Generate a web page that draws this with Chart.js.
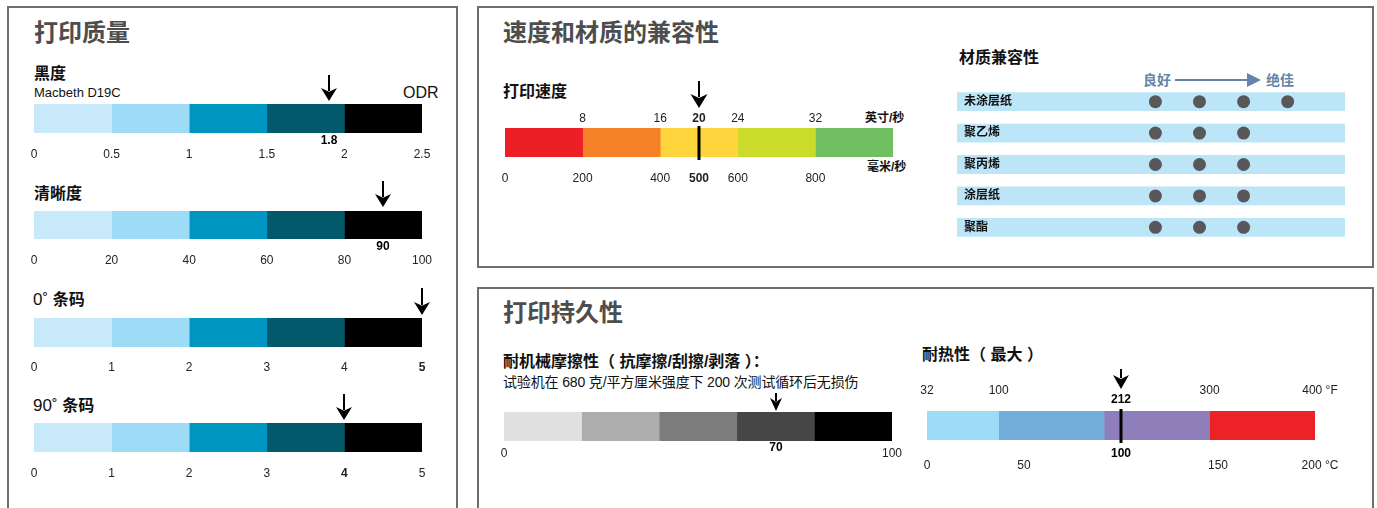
<!DOCTYPE html>
<html lang="zh-CN">
<head>
<meta charset="utf-8">
<title>打印质量 / 速度和材质的兼容性 / 打印持久性</title>
<script src="https://cdn.jsdelivr.net/npm/chart.js@4.4.1/dist/chart.umd.min.js"></script>
<style>
  html, body { margin: 0; padding: 0; background: #fff; }
  body { position: relative; width: 1377px; height: 508px; overflow: hidden;
         font-family: "Liberation Sans", "Noto Sans CJK SC", sans-serif; color: #111; }
  .panel { position: absolute; box-sizing: border-box; border: 2px solid #6e6e6e; }
  .t { position: absolute; line-height: 1; white-space: nowrap; }
  .title { font-size: 24px; font-weight: bold; color: #4d4d4d; }
  .head { font-size: 16px; font-weight: bold; }
  .unit { font-size: 12px; font-weight: bold; }
  .scale { font-size: 14px; font-weight: bold; color: #6485a8; }
  canvas { position: absolute; }
</style>
</head>
<body>
<div class="panel" style="left:7px;top:6px;width:451px;height:530px"></div>
<div class="panel" style="left:477px;top:6px;width:897px;height:262px"></div>
<div class="panel" style="left:477px;top:287px;width:897px;height:240px"></div>

<div class="t title" style="left:34px;top:21px">打印质量</div>
<div class="t head" style="left:34px;top:66px">黑度</div>
<div class="t" style="left:34px;top:86px;font-size:13px">Macbeth D19C</div>
<div class="t" style="left:403px;top:85px;font-size:16px">ODR</div>
<div class="t head" style="left:34px;top:186px">清晰度</div>
<div class="t" style="left:33px;top:291px;font-size:17px">0˚ <b style="font-size:16px">条码</b></div>
<div class="t" style="left:33px;top:397px;font-size:17px">90˚ <b style="font-size:16px">条码</b></div>

<div class="t title" style="left:503px;top:21px">速度和材质的兼容性</div>
<div class="t head" style="left:503px;top:84px">打印速度</div>
<div class="t unit" style="left:865px;top:112px">英寸/秒</div>
<div class="t unit" style="left:867px;top:161px">毫米/秒</div>
<div class="t head" style="left:959px;top:50px">材质兼容性</div>
<div class="t scale" style="left:1143px;top:73px">良好</div>
<div style="position:absolute;left:1175px;top:79px;width:76px;height:2px;background:#6485a8"></div>
<div style="position:absolute;left:1247px;top:73px;width:0;height:0;border-left:14px solid #6485a8;border-top:7px solid transparent;border-bottom:7px solid transparent"></div>
<div class="t scale" style="left:1266px;top:73px">绝佳</div>

<div class="t title" style="left:503px;top:301px">打印持久性</div>
<div class="t head" style="left:503px;top:354px">耐机械摩擦性（ 抗摩擦/刮擦/剥落 ）：</div>
<div class="t" style="left:503px;top:375px;font-size:14px;letter-spacing:-0.15px">试验机在 680 克/平方厘米强度下 200 次测试循环后无损伤</div>
<div class="t head" style="left:922px;top:347px">耐热性（ 最大 ）</div>

<script>
// 打印质量
const darknessEdges = [0, 0.5, 1, 1.5, 2, 2.5];
const darknessTicks = [0, 0.5, 1, 1.5, 2, 2.5];
const darknessArrowAt = 1.9;   // arrow sits here in the picture
const darknessValue = '1.8';

const clarityEdges = [0, 20, 40, 60, 80, 100];
const clarityTicks = [0, 20, 40, 60, 80, 100];
const clarityValue = 90;

const barcodeEdges = [0, 1, 2, 3, 4, 5];
const barcodeTicks = [0, 1, 2, 3, 4, 5];
const barcode0Value = 5;
const barcode90Value = 4;

// 打印速度
const speedEdgesMm = [0, 200, 400, 600, 800, 1000];
const speedTicksIps = [8, 16, 20, 24, 32];
const speedTicksMm = [0, 200, 400, 500, 600, 800];
const speedIps = 20;
const speedMm = 500;

// 材质兼容性
const materials = ['未涂层纸', '聚乙烯', '聚丙烯', '涂层纸', '聚酯'];
const materialRatings = [4, 3, 3, 3, 3];

// 耐机械摩擦性
const abrasionEdges = [0, 20, 40, 60, 80, 100];
const abrasionTicks = [0, 100];
const abrasionValue = 70;

// 耐热性
const heatEdgesF = [32, 100, 200, 300, 400];
const heatTicksF = [32, 100, 300, 400];
const heatTicksC = [0, 50, 150, 200];
const heatMaxF = 212;
const heatMaxC = 100;

const blues = ['#c7e9f9', '#9ddbf6', '#0096c2', '#02596c', '#000000'];
const speedColors = ['#ed1f26', '#f58229', '#fed53d', '#cadb2b', '#72bf62'];
const grays = ['#e0e0e0', '#adadad', '#7c7c7c', '#464646', '#000000'];
const heatColors = ['#9ddcf6', '#72acd9', '#8e7fba', '#ec2227'];

Chart.defaults.font.family = '"Liberation Sans", "Noto Sans CJK SC", sans-serif';
Chart.defaults.font.size = 12;
Chart.defaults.color = '#222';

// arrow / marker line / bold value labels
const markerPlugin = {
    id: 'marker',
    afterDatasetsDraw(chart, args, o) {
        if (!o || o.value === undefined) return;
        const ctx = chart.ctx;
        const x = Math.round(chart.scales[o.axis].getPixelForValue(o.value));
        const { top, bottom } = chart.chartArea;
        ctx.save();
        ctx.fillStyle = '#000';
        ctx.strokeStyle = '#000';
        if (o.line) {
            ctx.lineWidth = 3;
            ctx.beginPath();
            ctx.moveTo(x, top - 2);
            ctx.lineTo(x, bottom + 3);
            ctx.stroke();
        }
        const tip = top - o.gap;
        const hw = o.headW / 2;
        ctx.lineWidth = 2;
        ctx.beginPath();
        ctx.moveTo(x, tip - o.len);
        ctx.lineTo(x, tip - o.headH + 3);
        ctx.stroke();
        ctx.beginPath();
        ctx.moveTo(x, tip);
        ctx.lineTo(x - hw, tip - o.headH);
        ctx.lineTo(x, tip - o.headH * 0.72);
        ctx.lineTo(x + hw, tip - o.headH);
        ctx.closePath();
        ctx.fill();
        ctx.font = 'bold 12px "Liberation Sans", sans-serif';
        ctx.textAlign = 'center';
        ctx.textBaseline = 'middle';
        if (o.above) ctx.fillText(o.above, x, top - o.aboveDy);
        if (o.below) ctx.fillText(o.below, x, bottom + o.belowDy);
        ctx.restore();
    }
};
Chart.register(markerPlugin);

function place(left, top, width, height) {
    const c = document.createElement('canvas');
    c.width = width;
    c.height = height;
    c.style.cssText = `left:${left}px;top:${top}px;width:${width}px;height:${height}px`;
    document.body.appendChild(c);
    return c;
}

function axis(position, ax) {
    const bold = ax.bold || [];
    return {
        type: 'linear',
        position,
        min: ax.min,
        max: ax.max,
        grid: { display: false, drawTicks: false },
        border: { display: false },
        afterBuildTicks: s => { s.ticks = ax.ticks.map(v => ({ value: v })); },
        afterFit: s => { s.height = ax.height; },
        ticks: {
            autoSkip: false,
            maxRotation: 0,
            padding: ax.pad,
            color: '#222',
            font: c => ({ size: 12, weight: c.tick && bold.includes(c.tick.value) ? 'bold' : 'normal' }),
            callback: v => ax.labels ? ax.labels[ax.ticks.indexOf(v)] : String(v)
        }
    };
}

function segmentChart(cfg) {
    const b = cfg.bar;
    const padL = 30, padR = 50;
    const topH = cfg.top ? cfg.top.height : 0;
    const canvas = place(b.x - padL, b.y - cfg.padT, b.w + padL + padR, b.h + cfg.padT + cfg.bottom.height);
    const scales = { y: { display: false } };
    scales.x = axis('bottom', cfg.bottom);
    if (cfg.top) scales.x2 = axis('top', cfg.top);
    return new Chart(canvas, {
        type: 'bar',
        data: {
            labels: [''],
            datasets: cfg.edges.slice(1).map((end, i) => ({
                data: [[cfg.edges[i], end]],
                backgroundColor: cfg.colors[i],
                borderWidth: 0,
                grouped: false,
                barPercentage: 1,
                categoryPercentage: 1,
                xAxisID: cfg.segAxis || 'x'
            }))
        },
        options: {
            indexAxis: 'y',
            responsive: false,
            animation: false,
            events: [],
            layout: { padding: { left: padL, right: padR, top: cfg.padT - topH, bottom: 0 } },
            plugins: { legend: { display: false }, tooltip: { enabled: false }, marker: cfg.marker },
            scales
        }
    });
}

const arrowL = { gap: 3, len: 26, headW: 16, headH: 13 };

// 黑度
segmentChart({
    bar: { x: 34, y: 104, w: 388, h: 29 }, padT: 32,
    edges: darknessEdges, colors: blues,
    bottom: { min: 0, max: 2.5, ticks: darknessTicks, pad: 14, height: 34 },
    marker: { ...arrowL, axis: 'x', value: darknessArrowAt, below: darknessValue, belowDy: 8 }
});
// 清晰度
segmentChart({
    bar: { x: 34, y: 211, w: 388, h: 28 }, padT: 32,
    edges: clarityEdges, colors: blues,
    bottom: { min: 0, max: 100, ticks: clarityTicks, pad: 14.5, height: 34 },
    marker: { ...arrowL, gap: 4, axis: 'x', value: clarityValue, below: String(clarityValue), belowDy: 8 }
});
// 0° 条码
segmentChart({
    bar: { x: 34, y: 318, w: 388, h: 29 }, padT: 32,
    edges: barcodeEdges, colors: blues,
    bottom: { min: 0, max: 5, ticks: barcodeTicks, bold: [barcode0Value], pad: 13, height: 34 },
    marker: { ...arrowL, len: 27, axis: 'x', value: barcode0Value }
});
// 90° 条码
segmentChart({
    bar: { x: 34, y: 423, w: 388, h: 29 }, padT: 32,
    edges: barcodeEdges, colors: blues,
    bottom: { min: 0, max: 5, ticks: barcodeTicks, bold: [barcode90Value], pad: 14, height: 34 },
    marker: { ...arrowL, axis: 'x', value: barcode90Value }
});

// 打印速度
segmentChart({
    bar: { x: 505, y: 128, w: 388, h: 29 }, padT: 50,
    edges: speedEdgesMm, colors: speedColors,
    bottom: { min: 0, max: 1000, ticks: speedTicksMm, bold: [speedMm], pad: 14.5, height: 34 },
    top: { min: 0, max: 40, ticks: speedTicksIps, bold: [speedIps], pad: 2.5, height: 24 },
    marker: { axis: 'x', value: speedMm, line: true, gap: 20, len: 27, headW: 17, headH: 14 }
});

// 耐机械摩擦性
segmentChart({
    bar: { x: 504, y: 412, w: 388, h: 29 }, padT: 22,
    edges: abrasionEdges, colors: grays,
    bottom: { min: 0, max: 100, ticks: abrasionTicks, pad: 5, height: 24 },
    marker: { axis: 'x', value: abrasionValue, gap: 1, len: 18, headW: 12, headH: 13, below: String(abrasionValue), belowDy: 7 }
});

// 耐热性 (unit labels padded so the number sits at the bar end)
segmentChart({
    bar: { x: 927, y: 411, w: 388, h: 29 }, padT: 46,
    edges: heatEdgesF, colors: heatColors, segAxis: 'x2',
    bottom: { min: 0, max: 200, ticks: heatTicksC, labels: ['0', '50', '150', '   200 °C'], pad: 18, height: 36 },
    top: { min: 32, max: 400, ticks: heatTicksF, labels: ['32', '100', '300', '   400 °F'], pad: 12.8, height: 28 },
    marker: { axis: 'x', value: heatMaxC, line: true, gap: 22, len: 20, headW: 16, headH: 14,
              above: String(heatMaxF), aboveDy: 11, below: String(heatMaxC), belowDy: 14 }
});

// 材质兼容性
const dotMin = -3.5, dotMax = 5.3;
const dots = materials.flatMap((m, i) =>
    Array.from({ length: materialRatings[i] }, (_, k) => ({ x: k + 1, y: m })));

new Chart(place(957, 86, 388, 157), {
    type: 'bar',
    data: {
        labels: materials,
        datasets: [
            {
                type: 'scatter',
                data: dots,
                pointRadius: 6.5,
                pointHoverRadius: 6.5,
                pointBackgroundColor: '#58585a',
                pointBorderWidth: 0,
                clip: false,
                order: 0
            },
            {
                data: materials.map(() => [dotMin, dotMax]),
                backgroundColor: '#bce6f8',
                borderWidth: 0,
                barPercentage: 0.6,
                categoryPercentage: 1,
                order: 1
            }
        ]
    },
    options: {
        indexAxis: 'y',
        responsive: false,
        animation: false,
        events: [],
        layout: { padding: 0, autoPadding: false },
        plugins: { legend: { display: false }, tooltip: { enabled: false }, marker: false },
        scales: {
            x: { type: 'linear', min: dotMin, max: dotMax, display: false },
            y: {
                type: 'category',
                offset: true,
                grid: { display: false, drawTicks: false },
                border: { display: false },
                afterFit: s => { s.width = 0; s.paddingTop = 0; s.paddingBottom = 0; },
                ticks: { mirror: true, z: 1, padding: 7, color: '#111', font: { size: 12, weight: 'bold' } }
            }
        }
    }
});
</script>
</body>
</html>
